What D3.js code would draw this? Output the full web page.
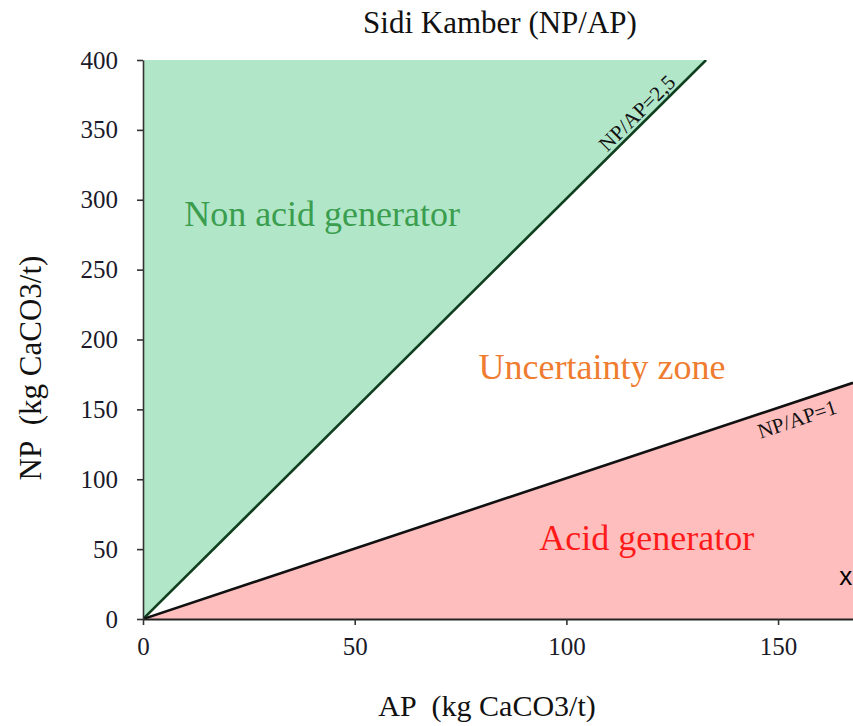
<!DOCTYPE html>
<html><head><meta charset="utf-8">
<script src="https://cdn.jsdelivr.net/npm/d3@7"></script>
<style>html,body{margin:0;padding:0;background:#fff;}</style>
</head><body><svg id="c" width="853" height="726"></svg>
<script>
const title = "Sidi Kamber (NP/AP)";
const xLabel = "AP\u00a0 (kg CaCO3/t)";
const yLabel = "NP\u00a0 (kg CaCO3/t)";
const xTicks = [0, 50, 100, 150];
const yTicks = [0, 50, 100, 150, 200, 250, 300, 350, 400];
const xDomain = [0, 167.7];
const yDomain = [0, 400];
const upperLine = [[0, 0], [133, 400]];
const lowerLine = [[0, 0], [167.7, 169]];
const greenZone = [[0, 0], [0, 400], [133, 400]];
const pinkZone = [[0, 0], [167.7, 169], [167.7, 0]];
const samples = [[166, 31]];
const zoneLabels = [
  {text: "Non acid generator", x: 42.3, y: 281, color: "#3a9e4e"},
  {text: "Uncertainty zone", x: 108.4, y: 172, color: "#ef7c2f"},
  {text: "Acid generator", x: 119, y: 49.5, color: "#ff1a1a"}
];
const lineLabels = [
  {text: "NP/AP=2,5", x: 116.7, y: 362, along: upperLine},
  {text: "NP/AP=1", x: 154.5, y: 143, along: lowerLine}
];

const svg = d3.select("#c");
const L = 143, R = 853, T = 60, B = 619;
const x = d3.scaleLinear().domain(xDomain).range([L, R]);
const y = d3.scaleLinear().domain(yDomain).range([B, T]);
const serif = "'Liberation Serif', 'Times New Roman', serif";

svg.append("defs").append("clipPath").attr("id", "pc")
  .append("rect").attr("x", L).attr("y", T).attr("width", R - L).attr("height", B - T);
const g = svg.append("g").attr("clip-path", "url(#pc)");
const poly = d3.line().x(d => x(d[0])).y(d => y(d[1]));

g.append("path").attr("d", poly(greenZone) + "Z").attr("fill", "#b2e6c9");
g.append("path").attr("d", poly(pinkZone) + "Z").attr("fill", "#ffbebe");
g.append("path").attr("d", poly(upperLine)).attr("stroke", "#0f3f1e").attr("stroke-width", 2.6).attr("fill", "none");
g.append("path").attr("d", poly(lowerLine)).attr("stroke", "#111").attr("stroke-width", 2.6).attr("fill", "none");

// axes
const xa = svg.append("g").attr("transform", `translate(0,${B})`)
  .call(d3.axisBottom(x).tickValues(xTicks).tickSize(6).tickSizeOuter(0).tickPadding(12));
const ya = svg.append("g").attr("transform", `translate(${L},0)`)
  .call(d3.axisLeft(y).tickValues(yTicks).tickSize(6).tickSizeOuter(0).tickPadding(19));
[xa, ya].forEach(a => {
  a.selectAll("path,line").attr("stroke", "#333").attr("stroke-width", 1.6);
  a.selectAll("text").attr("font-family", serif).attr("font-size", 25).attr("fill", "#1a1a2a");
});
xa.select(".domain").attr("stroke", "#222").attr("stroke-width", 2);

// zone labels
zoneLabels.forEach(d => {
  svg.append("text").attr("x", x(d.x)).attr("y", y(d.y)).attr("text-anchor", "middle")
    .attr("font-family", serif).attr("font-size", 36).attr("fill", d.color).text(d.text);
});
// line labels
lineLabels.forEach(d => {
  const p0 = d.along[0], p1 = d.along[1];
  const ang = Math.atan2(y(p1[1]) - y(p0[1]), x(p1[0]) - x(p0[0])) * 180 / Math.PI;
  svg.append("text").attr("transform", `translate(${x(d.x)},${y(d.y)}) rotate(${ang})`)
    .attr("text-anchor", "middle").attr("dominant-baseline", "central")
    .attr("font-family", serif).attr("font-size", 21).attr("fill", "#111").text(d.text);
});
// sample points
svg.selectAll(".pt").data(samples).enter().append("text").attr("class", "pt")
  .attr("x", d => x(d[0])).attr("y", d => y(d[1])).attr("text-anchor", "middle")
  .attr("dominant-baseline", "central").attr("font-family", "'Liberation Sans', Arial, sans-serif")
  .attr("font-size", 26).attr("fill", "#000").text("x");

// titles
svg.append("text").attr("x", 500).attr("y", 33).attr("text-anchor", "middle")
  .attr("font-family", serif).attr("font-size", 31).attr("fill", "#111").text(title);
svg.append("text").attr("x", 487).attr("y", 716).attr("text-anchor", "middle")
  .attr("font-family", serif).attr("font-size", 30).attr("fill", "#111").text(xLabel);
svg.append("text").attr("transform", "translate(41,368) rotate(-90)").attr("text-anchor", "middle")
  .attr("font-family", serif).attr("font-size", 31).attr("fill", "#111").text(yLabel);
</script></body></html>
